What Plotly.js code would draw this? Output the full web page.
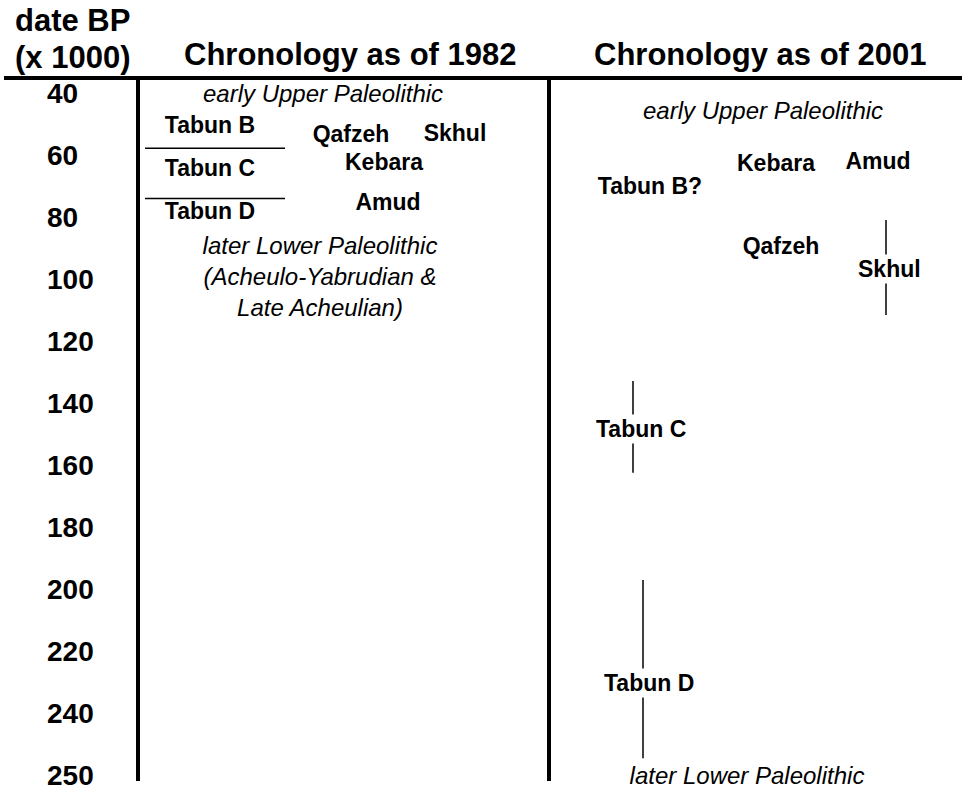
<!DOCTYPE html>
<html><head><meta charset="utf-8">
<script src="https://cdn.plot.ly/plotly-3.0.1.min.js"></script>
<style>html,body{margin:0;padding:0;background:#fff}#chart{width:962px;height:792px}</style>
</head><body><div id="chart"></div>
<script>
// ---------------- data (ages in thousands of years BP) ----------------
const tickLabels = ["40","60","80","100","120","140","160","180","200","220","240","250"];
const tickAges   = [40,60,80,100,120,140,160,180,200,220,240,250];

const sites1982 = ["Tabun B","Tabun C","Tabun D","Qafzeh","Skhul","Kebara","Amud"];
const ages1982  = [51.1,64.8,78.9,53.8,53.5,63,75.8];
const boundaries1982 = [57.8, 74];
const periods1982 = ["early Upper Paleolithic","later Lower Paleolithic<br>(Acheulo-Yabrudian &<br>Late Acheulian)"];
const periodAges1982 = [41, 100];

const sites2001 = ["Tabun B?","Kebara","Amud","Qafzeh"];
const ages2001  = [70.6,63.4,62.8,90.2];
const rangeSites2001 = ["Skhul","Tabun C","Tabun D"];
const rangeMid2001   = [96.8,148.3,230.2];
const rangeStart2001 = [81,132.9,197.1];
const rangeEnd2001   = [111.6,162.5,247.3];
const periods2001 = ["early Upper Paleolithic","later Lower Paleolithic"];
const periodAges2001 = [46.5, 250.5];

const headers = ["Chronology as of 1982","Chronology as of 2001"];
const axisTitleLines = ["date BP","(x 1000)"];

// ---------------- layout (lanes / styles) ----------------
const W = 962, H = 792;
const FONT = "Liberation Sans, Arial, Helvetica, sans-serif";
const lane1982Sites   = [210,210,210,351,455,384,388];
const lane1982Periods = [323,320];
const boundaryX       = [145,285];
const lane2001Sites   = [650,776,878,781];
const lane2001RangeTxt  = [889,641,649];
const lane2001RangeLine = [886,633,643];
const lane2001Periods = [763,747];
const headerX = [350,760];
const headerY = [1-55/H];
const axisTitleX = 72, axisTitleY = [1-21/H, 1-57/H];
const topLineY = 1-78/H, bottomY = 1-781/H;
const dividerX = [138, 549];

// chart's own ordinal scale: ticks evenly spaced, interpolate between ticks
function ageToIdx(a){
  const n = tickAges.length;
  let i = 0;
  while (i < n-2 && a > tickAges[i+1]) i++;
  return i + (a - tickAges[i])/(tickAges[i+1]-tickAges[i]);
}
const idx = arr => arr.map(ageToIdx);
const tickIdx = tickAges.map((_,i)=>i);

const bold = s => "<b>"+s+"</b>";
const ital = s => "<i>"+s+"</i>";

const traces = [];
traces.push({type:"scatter",mode:"text",x:lane1982Sites,y:idx(ages1982),text:sites1982.map(bold),
  textposition:"middle center",textfont:{family:FONT,size:23,color:"#000"},hoverinfo:"skip",showlegend:false,cliponaxis:false});
traces.push({type:"scatter",mode:"text",x:lane1982Periods,y:idx(periodAges1982),text:periods1982.map(s=>s.split("<br>").map(ital).join("<br>")),
  textposition:"middle center",textfont:{family:FONT,size:24,color:"#000"},hoverinfo:"skip",showlegend:false,cliponaxis:false});
const bx=[],by=[];
boundaries1982.forEach(b=>{const v=ageToIdx(b);bx.push(boundaryX[0],boundaryX[1],null);by.push(v,v,null);});
traces.push({type:"scatter",mode:"lines",x:bx,y:by,line:{color:"#000",width:1.5},hoverinfo:"skip",showlegend:false});
traces.push({type:"scatter",mode:"text",x:lane2001Sites,y:idx(ages2001),text:sites2001.map(bold),
  textposition:"middle center",textfont:{family:FONT,size:23,color:"#000"},hoverinfo:"skip",showlegend:false,cliponaxis:false});
const rx=[],ry=[];
rangeStart2001.forEach((s,i)=>{rx.push(lane2001RangeLine[i],lane2001RangeLine[i],null);ry.push(ageToIdx(s),ageToIdx(rangeEnd2001[i]),null);});
traces.push({type:"scatter",mode:"lines",x:rx,y:ry,line:{color:"#000",width:1.5},hoverinfo:"skip",showlegend:false});
traces.push({type:"scatter",mode:"text",x:lane2001Periods,y:idx(periodAges2001),text:periods2001.map(ital),
  textposition:"middle center",textfont:{family:FONT,size:24,color:"#000"},hoverinfo:"skip",showlegend:false,cliponaxis:false});

const annotations = [];
rangeSites2001.forEach((s,i)=>annotations.push({xref:"x",yref:"y",x:lane2001RangeTxt[i],y:ageToIdx(rangeMid2001[i]),
  text:bold(s),showarrow:false,font:{family:FONT,size:23,color:"#000"},bgcolor:"#fff",borderpad:1,xanchor:"center",yanchor:"middle"}));
headers.forEach((h,i)=>annotations.push({xref:"x",yref:"paper",x:headerX[i],y:headerY[0],text:bold(h),showarrow:false,
  font:{family:FONT,size:31,color:"#000"},xanchor:"center",yanchor:"middle"}));
axisTitleLines.forEach((t,i)=>annotations.push({xref:"x",yref:"paper",x:axisTitleX,y:axisTitleY[i],text:bold(t),showarrow:false,
  font:{family:FONT,size:31,color:"#000"},xanchor:"center",yanchor:"middle"}));

const shapes = [
  {type:"line",xref:"x",yref:"paper",x0:4,x1:W,y0:topLineY,y1:topLineY,line:{color:"#000",width:4}},
  {type:"line",xref:"x",yref:"paper",x0:dividerX[0],x1:dividerX[0],y0:topLineY,y1:bottomY,line:{color:"#000",width:4}},
  {type:"line",xref:"x",yref:"paper",x0:dividerX[1],x1:dividerX[1],y0:topLineY,y1:bottomY,line:{color:"#000",width:4}}
];

const pxPerIdx = 62.0, idx0Px = 93;
const layout = {
  width:W,height:H,margin:{l:0,r:0,t:0,b:0},paper_bgcolor:"#fff",plot_bgcolor:"#fff",
  showlegend:false,hovermode:false,
  xaxis:{range:[0,W],visible:false,fixedrange:true},
  yaxis:{range:[(H-idx0Px)/pxPerIdx, -idx0Px/pxPerIdx],autorange:false,showgrid:false,zeroline:false,showline:false,
    tickmode:"array",tickvals:tickIdx,ticktext:tickLabels,ticks:"",ticklabelposition:"inside",ticklabelstandoff:44,
    ticklabeloverflow:"allow",
    tickfont:{family:FONT,size:28,color:"#000",weight:"bold"},fixedrange:true},
  annotations:annotations,shapes:shapes
};
Plotly.newPlot("chart",traces,layout,{staticPlot:true,displayModeBar:false});
</script></body></html>
